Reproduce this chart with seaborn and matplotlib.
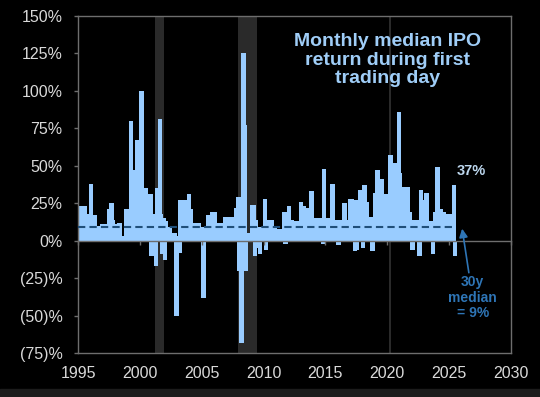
import numpy as np
import pandas as pd
import matplotlib
matplotlib.use("Agg")
import matplotlib.pyplot as plt
import seaborn as sns
from matplotlib.patches import Rectangle

# ---------------- data (monthly median first-day IPO return, %) ----------------
first_month = "1995-04"
r1995 = [23, 23, 23, 23, 18, 18, 18, 18, 18]
r1996 = [38, 17, 17, 17, 17, 10, 10, 10, 10, 10, 10, 11]
r1997 = [11, 11, 11, 11, 11, 11, 21, 21, 25, 14, 11, 11]
r1998 = [11, 11, 11, 11, 12, 3, 3, 3, 3, 3, 21, 21]
r1999 = [21, 21, 21, 80, 47, 47, 47, 47, 47, 67, 67, 67]
r2000 = [67, 100, 35, 35, 35, 35, 31, 31, 31, 31, 31, -10]
r2001 = [18, 18, 18, -17, 35, 35, 35, 81, 18, -9, 15, 15]
r2002 = [-13, 13, 9, 9, 9, 5, 5, 5, 5, 5, 3, -50]
r2003 = [3, 3, -8, 27, 27, 27, 27, 27, 27, 27, 27, 31]
r2004 = [21, 21, 12, 12, 12, 12, 12, 12, 12, 12, 9, 9]
r2005 = [9, -38, 9, 9, 9, 9, 17, 17, 17, 17, 19, 19]
r2006 = [19, 12, 12, 12, 12, 12, 12, 12, 12, 12, 16, 16]
r2007 = [16, 16, 16, 16, 16, 16, 16, 16, 16, 22, 22, 29]
r2008 = [-20, 29, -68, 29, 125, 77, -20, 5, 5, 5, 5, 5]
r2009 = [5, 24, 24, -10, 14, -5, 9, 9, -9, 9, 9, 9]
r2010 = [9, 28, -6, 14, 14, 14, 14, 14, 9, 9, 9, 8]
r2011 = [8, 8, 8, -1, 8, 8, 8, 8, 19, -2, 19, 19]
r2012 = [23, 14, 14, 14, 13, 13, 13, 13, 13, 13, 13, 13]
r2013 = [26, 23, 23, 22, 22, 22, 22, 22, 22, 22, 33, 15]
r2014 = [15, 15, 15, 15, 15, 15, 15, 15, 15, -2, 48, 15]
r2015 = [15, 15, 15, 15, 15, 15, 38, 38, 14, 14, 14, 14]
r2016 = [-3, 14, 14, 14, 14, 14, 25, 14, 14, 14, 14, 14]
r2017 = [28, 28, 27, 27, -7, 27, -6, 27, 27, 34, 34, 34]
r2018 = [-5, 37, 37, 26, 26, 16, 16, 16, 16, -7, 16, 16]
r2019 = [32, 32, 47, 32, 41, 41, 41, 31, 31, 31, 31, 31]
r2020 = [31, 31, 57, 57, 52, 52, 52, 52, 52, 52, 52, 86]
r2021 = [45, 36, 36, 36, 36, 36, 36, 36, 19, 19, 14, 14]
r2022 = [-6, 14, 14, 14, 14, 14, 14, -10, 34, 27, 27, 27]
r2023 = [27, 32, 32, 13, 13, 13, 13, 13, -9, 13, 19, 19]
r2024 = [49, 21, 21, 21, 19, 19, 19, 18, 18, 18, 18, 18]
r2025 = [18, 18, 18, 18, 37, -10]

median_30y = 9                      # % (dashed line)
recession_start = [2001.2, 2007.92, 2020.17]
recession_end = [2001.92, 2009.48, 2020.29]

y_ticks = [-75, -50, -25, 0, 25, 50, 75, 100, 125, 150]
x_ticks = [1995, 2000, 2005, 2010, 2015, 2020, 2025, 2030]

title_text = "Monthly median IPO\nreturn during first\ntrading day"
median_text = "30y\nmedian\n= 9%"

# ---------------- assemble ----------------
values = (r1995 + r1996 + r1997 + r1998 + r1999 + r2000 + r2001 + r2002 + r2003 +
          r2004 + r2005 + r2006 + r2007 + r2008 + r2009 + r2010 + r2011 + r2012 +
          r2013 + r2014 + r2015 + r2016 + r2017 + r2018 + r2019 + r2020 + r2021 +
          r2022 + r2023 + r2024 + r2025)
months = pd.period_range(first_month, periods=len(values), freq="M")
xdec = months.year + (months.month - 1) / 12 + 1 / 24
df = pd.DataFrame({"year": np.round(xdec, 6), "ret": values})

# ---------------- style ----------------
BG = "black"
BAR = "#99CCFF"
BAND = "#2a2a2a"
SPINE = "#6e6e6e"
LABEL = "#d9d9d9"
DASH = "#1f4e79"
ANN = "#2e75b6"
TITLE = "#9fcdf7"

plt.rcParams["font.family"] = ["Liberation Sans", "DejaVu Sans"]

W, H = 540, 397
fig = plt.figure(figsize=(W / 100, H / 100), dpi=100, facecolor=BG)
# frame strip at the bottom of the screenshot
fig.patches.append(Rectangle((0, 0), 1, 8 / H, transform=fig.transFigure,
                             color="#1c1c1c", zorder=0))
ax = fig.add_axes([78 / W, 1 - 353 / H, (511 - 78) / W, (353 - 16) / H])
ax.set_facecolor(BG)

for s, e in zip(recession_start, recession_end):
    ax.axvspan(s, e, color=BAND, lw=0, zorder=0.5)

sns.barplot(data=df, x="year", y="ret", native_scale=True, width=4.4,
            color=BAR, saturation=1, linewidth=0, errorbar=None, ax=ax,
            zorder=2)

ax.hlines(median_30y, x_ticks[0], df["year"].max() + 1 / 24, colors=DASH,
          linestyles=(0, (3.5, 2)), lw=1.5, zorder=3)

ax.set_xlim(x_ticks[0], x_ticks[-1])
ax.set_ylim(y_ticks[0], y_ticks[-1])
ax.set_xticks(x_ticks)
ax.set_xticklabels([str(t) for t in x_ticks])
ax.set_yticks(y_ticks)
ax.set_yticklabels([f"{v}%" if v >= 0 else f"({-v})%" for v in y_ticks])
ax.set_xlabel("")
ax.set_ylabel("")

for sp in ax.spines.values():
    sp.set_color(SPINE)
    sp.set_linewidth(1)
ax.tick_params(axis="x", length=0, pad=9, labelcolor=LABEL, labelsize=11.5)
ax.tick_params(axis="y", direction="out", length=3, width=1, color=SPINE,
               pad=8, labelcolor=LABEL, labelsize=11.5)

# zero line with tick marks (axis crossing at 0)
zero_loc = (0 - y_ticks[0]) / (y_ticks[-1] - y_ticks[0])
sec = ax.secondary_xaxis(zero_loc)
sec.set_xticks(x_ticks)
sec.tick_params(axis="x", direction="out", length=3, width=1, color=SPINE,
                labelbottom=False, labeltop=False)
for sp in sec.spines.values():
    sp.set_color(SPINE)
    sp.set_linewidth(1)
sec.set_zorder(5)

ax.text(2020.0, 120.5, title_text, ha="center", va="center", fontsize=14,
        fontweight="bold", color=TITLE, linespacing=1.1, zorder=6)

ax.text(2026.8, 46.5, f"{r2025[-2]}%", ha="center", va="center", fontsize=10.5,
        fontweight="bold", color="#bdd7ee", zorder=6)

ax.annotate(median_text, xy=(2026.05, 8), xytext=(2026.9, -38),
            ha="center", va="center", fontsize=10, fontweight="bold",
            color=ANN, linespacing=1.1,
            arrowprops=dict(arrowstyle="-|>,head_length=0.5,head_width=0.25",
                            color=ANN, lw=1.2, shrinkA=0, shrinkB=0,
                            mutation_scale=10),
            zorder=6)

fig.savefig("out.png", dpi=100, facecolor=BG)
